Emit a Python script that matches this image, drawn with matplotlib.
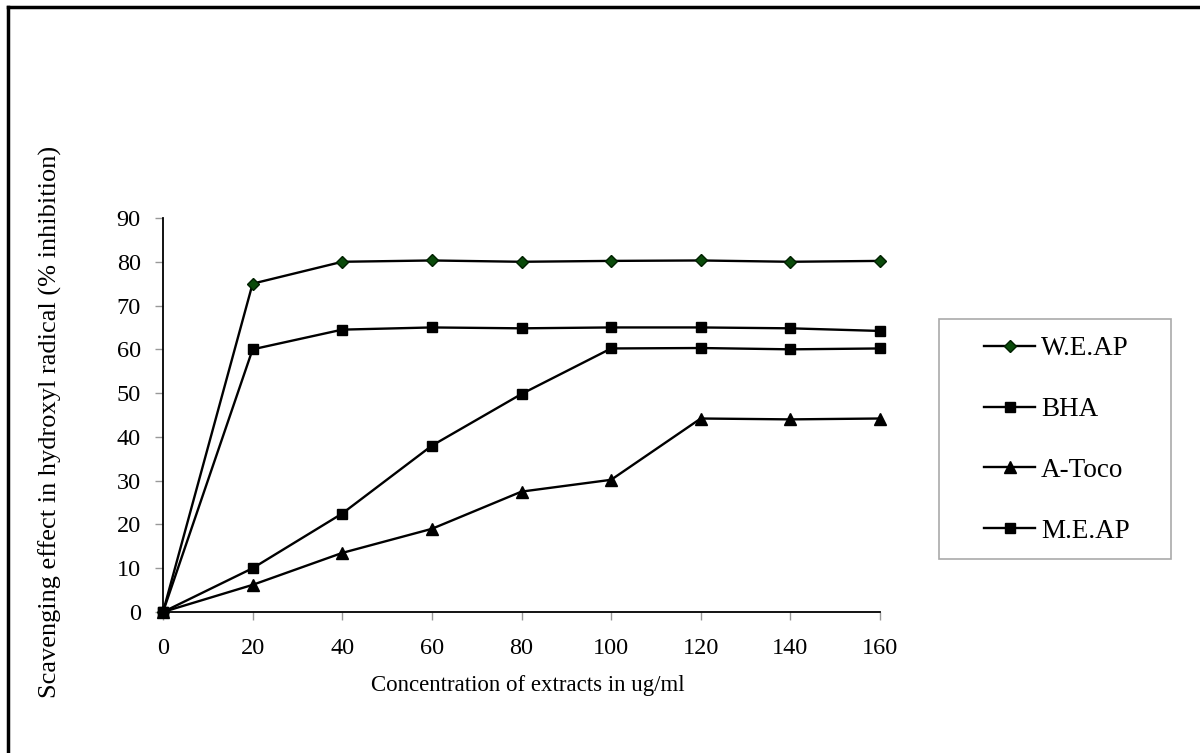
import matplotlib
matplotlib.use('Agg')
import matplotlib.pyplot as plt
from matplotlib.lines import Line2D
from matplotlib.patches import Rectangle

plt.rcParams['font.family'] = ['Liberation Serif', 'DejaVu Serif']

conc = [0, 20, 40, 60, 80, 100, 120, 140, 160]
weap = [0, 75, 80, 80.3, 80, 80.2, 80.3, 80, 80.2]
meap = [0, 60, 64.5, 65, 64.8, 65, 65, 64.8, 64.2]
bha = [0, 10, 22.5, 38, 49.8, 60.2, 60.3, 60, 60.2]
atoco = [0, 6.2, 13.5, 19, 27.5, 30.2, 44.2, 44, 44.2]

W, H = 1200, 753
fig = plt.figure(figsize=(W / 100, H / 100), dpi=100)
ax = fig.add_axes([163 / W, 1 - 612 / H, 717 / W, 394 / H])

ax.plot(conc, weap, '-', color='black', lw=1.7, marker='D', ms=6,
        mfc='#0a4a0a', mec='#002000', label='W.E.AP')
ax.plot(conc, bha, '-', color='black', lw=1.7, marker='s', ms=7.5,
        mfc='black', mec='black', label='BHA')
ax.plot(conc, atoco, '-', color='black', lw=1.7, marker='^', ms=8,
        mfc='black', mec='black', label='A-Toco')
ax.plot(conc, meap, '-', color='black', lw=1.7, marker='s', ms=7,
        mfc='black', mec='black', label='M.E.AP')
for m in ax.lines:
    m.set_clip_on(False)

ax.set_xlim(0, 160)
ax.set_ylim(0, 90)
ax.set_xticks(conc)
ax.set_yticks(range(0, 91, 10))
ax.spines['top'].set_visible(False)
ax.spines['right'].set_visible(False)
ax.spines['left'].set_linewidth(1.3)
ax.spines['bottom'].set_linewidth(1.3)
ax.tick_params(axis='both', direction='out', length=6, width=1,
               color='#999999', labelsize=17.5)
ax.tick_params(axis='x', pad=13)
ax.tick_params(axis='y', pad=10)

ax.set_xlabel('Concentration of extracts in ug/ml', fontsize=16.5)
ax.xaxis.set_label_coords(0.509, -0.16)
ax.set_ylabel('Scavenging effect in hydroxyl radical (% inhibition)',
              fontsize=19)
ax.yaxis.set_label_coords(-0.141, 0.482)

# legend box drawn by hand, entries placed inside it
fig.add_artist(Rectangle((939 / W, 1 - 559 / H), 232 / W, 240 / H,
                         transform=fig.transFigure, fill=False,
                         edgecolor='#aaaaaa', lw=1.2))
fig.legend(loc='center left', bbox_to_anchor=(984 / W, 1 - 440 / H),
           fontsize=19.5, frameon=False, labelspacing=1.32,
           handlelength=1.9, handletextpad=0.2, borderpad=0,
           borderaxespad=0)

# frame lines at top and left of the picture
fig.add_artist(Line2D([8 / W, 1], [1 - 7 / H, 1 - 7 / H],
                      transform=fig.transFigure, color='black', lw=2.5))
fig.add_artist(Line2D([8 / W, 8 / W], [0, 1 - 7 / H],
                      transform=fig.transFigure, color='black', lw=2.5))

plt.savefig('out.png', format='png', dpi=100)
